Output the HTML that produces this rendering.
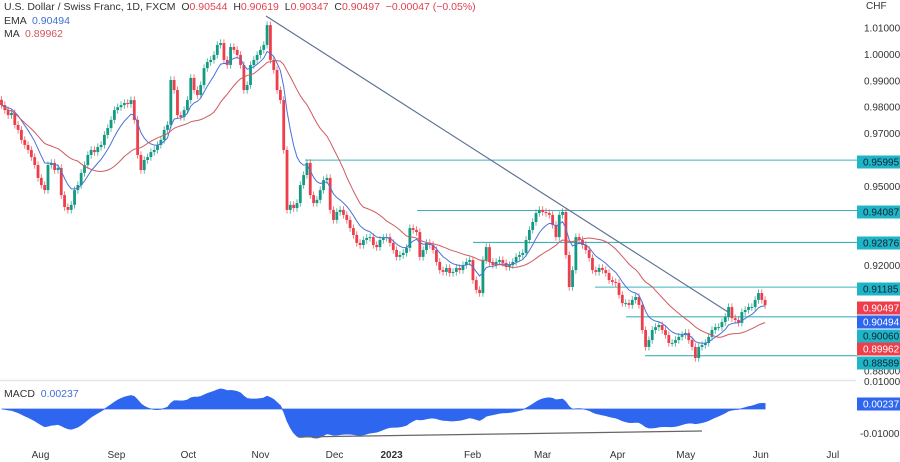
<!DOCTYPE html>
<html><head><meta charset="utf-8"><style>
html,body{margin:0;padding:0;background:#fff;}
svg{display:block;font-family:"Liberation Sans",sans-serif;}
text{white-space:pre;}
</style></head><body>
<svg id="chart" width="900" height="462" viewBox="0 0 900 462" xmlns="http://www.w3.org/2000/svg">
<rect width="900" height="462" fill="#fff"/>
<g id="levels"></g>
<g id="candles"></g>
<g id="inds"></g>
<line x1="266" y1="16" x2="728" y2="312" stroke="#5b6f95" stroke-width="1.1"/>
<line x1="0" y1="380.5" x2="856" y2="380.5" stroke="#e6e6e6" stroke-width="1.5"/>
<g id="macd"></g>
<line x1="298" y1="437" x2="702" y2="431" stroke="#666" stroke-width="1.2"/>
<g id="yaxis" font-size="10" fill="#333"></g>
<g id="xaxis" font-size="10" fill="#333"></g>
<g font-size="10.5">
<text x="4" y="10" fill="#333">U.S. Dollar / Swiss Franc, 1D, FXCM  O<tspan fill="#e0424f">0.90544</tspan>  H<tspan fill="#e0424f">0.90619</tspan>  L<tspan fill="#e0424f">0.90347</tspan>  C<tspan fill="#e0424f">0.90497</tspan>  <tspan fill="#e0424f">−0.00047 (−0.05%)</tspan></text>
<text x="4" y="24" fill="#333">EMA  <tspan fill="#3f6fd8">0.90494</tspan></text>
<text x="4" y="37" fill="#333">MA  <tspan fill="#d0555d">0.89962</tspan></text>
<text x="4" y="397" fill="#333">MACD  <tspan fill="#3f6fd8">0.00237</tspan></text>
</g>
</svg>
<script>
const closes = [
.9808,.9789,.9770,.9778,.9733,.9714,.9676,.9657,.9638,.9611,.9581,.9532,
.9505,.9486,.9581,.9589,.9562,.9570,.9467,.9422,.9411,.9430,.9486,.9505,
.9551,.9581,.9619,.9638,.9630,.9649,.9657,.9695,.9721,.9752,.9789,.9800,
.9808,.9816,.9812,.9827,.9752,.9619,.9562,.9600,.9611,.9630,.9638,.9657,
.9676,.9714,.9733,.9903,.9865,.9770,.9763,.9789,.9827,.9911,.9865,.9846,
.9884,.9948,.9971,.9979,.9998,1.0036,1.0043,.9979,.9960,1.0028,1.0017,.9998,
.9960,.9865,.9884,.9960,.9979,.9998,1.0017,1.0036,1.0111,.9979,.9941,.9865,
.9827,.9638,.9411,.9430,.9418,.9437,.9505,.9543,.9589,.9467,.9437,.9449,
.9486,.9524,.9532,.9411,.9373,.9403,.9411,.9392,.9373,.9342,.9316,.9286,
.9278,.9297,.9305,.9308,.9278,.9270,.9297,.9305,.9308,.9286,.9259,.9233,
.9240,.9248,.9267,.9342,.9335,.9327,.9233,.9259,.9286,.9278,.9259,.9214,
.9183,.9176,.9191,.9172,.9176,.9191,.9183,.9202,.9214,.9221,.9145,.9108,
.9096,.9221,.9270,.9214,.9202,.9214,.9221,.9210,.9195,.9202,.9214,.9233,
.9240,.9248,.9297,.9335,.9365,.9399,.9411,.9403,.9399,.9392,.9354,.9308,
.9392,.9403,.9240,.9119,.9183,.9308,.9297,.9278,.9259,.9229,.9183,.9176,
.9191,.9183,.9172,.9145,.9138,.9134,.9089,.9058,.9058,.9051,.9070,.9081,
.9051,.8956,.8892,.8918,.8956,.8967,.8975,.8956,.8937,.8907,.8907,.8918,
.8930,.8937,.8945,.8918,.8892,.8850,.8892,.8899,.8907,.8930,.8956,.8967,
.8967,.8986,.9005,.9043,.9001,.8994,.8983,.9024,.9032,.9043,.9043,.9070,
.9096,.9070,.9050];
const levelValues = [0.95995, 0.94087, 0.92876, 0.91185, 0.90060, 0.88589];
const levelStartX = [305, 417, 473, 595, 626, 645];
const priceTicks = [1.01,1.00,0.99,0.98,0.97,0.95,0.92,0.88];
const monthLabels = ["Aug","Sep","Oct","Nov","Dec","2023","Feb","Mar","Apr","May","Jun","Jul"];
const monthIndex = [11.75,34.6,56.3,78,100.3,117.5,141.9,163,185.6,206.1,228.7,250.4];
const emaLen = 9, maLen = 24;

const NS="http://www.w3.org/2000/svg";
const py = p => 28 + (1.01 - p) * 2640;
const xi = i => 1.5 + 3.32 * i;
const my = v => 409 - v * 2400;
function mk(tag, attrs, parent){const e=document.createElementNS(NS,tag);for(const k in attrs)e.setAttribute(k,attrs[k]);parent.appendChild(e);return e;}

const lv=document.getElementById('levels');
levelValues.forEach((v,k)=>{
  const l=mk('line',{x1:levelStartX[k],x2:857,y1:py(v),y2:py(v),stroke:'#3fb3bd','stroke-width':1.1},lv);
  
  
});
const cg=document.getElementById('candles');
closes.forEach((c,i)=>{
  const o = i===0 ? c+0.002 : closes[i-1];
  const hi=Math.max(o,c)+0.0014, lo=Math.min(o,c)-0.0014;
  const col = c>=o ? '#139a82' : '#ee3e4c';
  const x=xi(i);
  const w=mk('line',{x1:x,x2:x,y1:py(hi),y2:py(lo),stroke:col,'stroke-width':0.9,opacity:0.75},cg);
  
  
  const top=py(Math.max(o,c)), h=Math.max(1,py(Math.min(o,c))-top);
  const b=mk('rect',{x:x-1.4,y:top,width:2.8,height:h,fill:col},cg);
  
  
});
function emaArr(arr,n){const a=2/(n+1);let r=[],e=arr[0];arr.forEach((v,i)=>{e=i?a*v+(1-a)*e:v;r.push(e);});return r;}
const ema=emaArr(closes,emaLen);
const ma=closes.map((v,i)=>{const s=closes.slice(Math.max(0,i-maLen+1),i+1);return s.reduce((a,b)=>a+b,0)/s.length;});
const ig=document.getElementById('inds');
const pe=mk('path',{d:ema.map((v,i)=>(i?'L':'M')+xi(i)+' '+py(v)).join(''),fill:'none',stroke:'#4a72d9','stroke-width':1},ig);


const pm=mk('path',{d:ma.map((v,i)=>(i?'L':'M')+xi(i)+' '+py(v)).join(''),fill:'none',stroke:'#cf5a61','stroke-width':1},ig);


const e12=emaArr(closes,12), e26=emaArr(closes,26);
const macd=closes.map((v,i)=>e12[i]-e26[i]);
const mg=document.getElementById('macd');
let d='M'+xi(0)+' '+my(0);
macd.forEach((v,i)=>{d+='L'+xi(i)+' '+my(v);});
d+='L'+xi(macd.length-1)+' '+my(0)+'Z';
const ma2=mk('path',{d:d,fill:'#2f66f0',stroke:'#2f66f0','stroke-width':0.8},mg);


const ya=document.getElementById('yaxis');
const t0=mk('text',{x:866,y:9},ya);t0.textContent='CHF';


priceTicks.forEach(p=>{const t=mk('text',{x:864,y:py(p)+3.5},ya);t.textContent=p.toFixed(5);
  
  });
[[0.01,'0.01000',385],[-0.01,'-0.01000',437]].forEach(a=>{const t=mk('text',{x:a[1][0]==='-'?860:864,y:a[2]},ya);t.textContent=a[1];
  
  });
const tags=[["0.95995",162,'#1fb5c7','#123'],["0.94087",212,'#1fb5c7','#123'],["0.92876",243,'#1fb5c7','#123'],["0.91185",289,'#1fb5c7','#123'],["0.90497",308,'#ee3e4c','#fff'],["0.90494",322,'#2f66f0','#fff'],["0.90060",336,'#1fb5c7','#123'],["0.89962",349,'#ee3e4c','#fff'],["0.88589",363,'#1fb5c7','#123'],["0.00237",404,'#2f66f0','#fff']];
tags.forEach(tg=>{
  const r=mk('rect',{x:857,y:tg[1]-6.5,width:43,height:13,fill:tg[2]},ya);
  
  
  const t=mk('text',{x:863,y:tg[1]+3.5,fill:tg[3]},ya);t.textContent=tg[0];
  
  
});
const xa=document.getElementById('xaxis');
monthLabels.forEach((m,k)=>{const t=mk('text',{x:xi(monthIndex[k]),y:458,'text-anchor':'middle','font-weight':m==='2023'?'bold':'normal'},xa);t.textContent=m;
  
  });
</script>
</body></html>
